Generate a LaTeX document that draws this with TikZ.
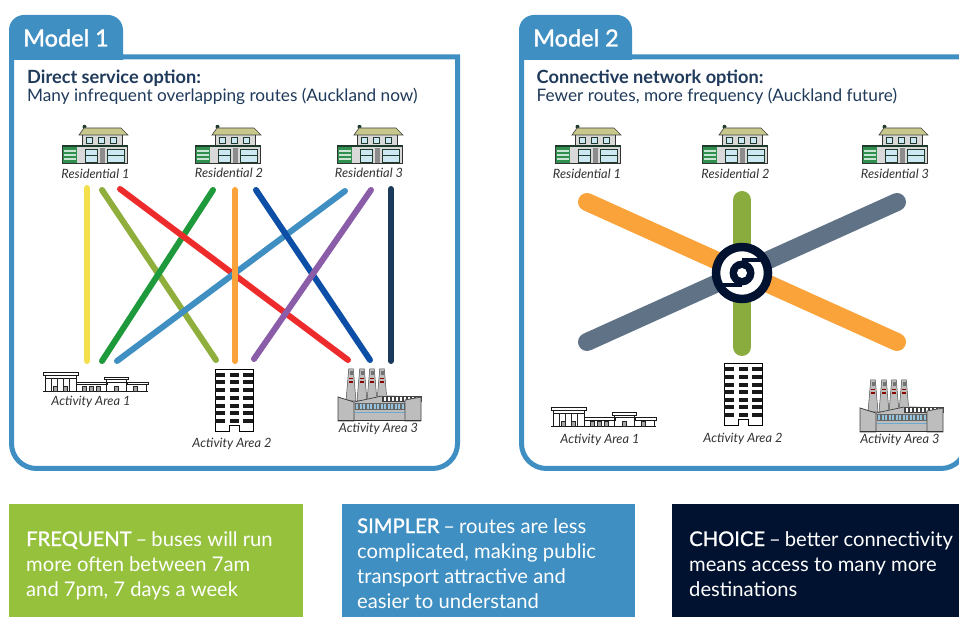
\documentclass[tikz,border=0pt]{standalone}
\usepackage{fontspec}
\setmainfont{Lato}
\newfontfamily\medfont[FakeBold=1.3]{Lato}
\definecolor{mblue}{HTML}{408FC2}
\definecolor{mgreen}{HTML}{95C13D}
\definecolor{mnavy}{HTML}{00122F}
\definecolor{headc}{HTML}{1F3A5A}
\definecolor{labc}{HTML}{333333}
\definecolor{rroof}{HTML}{C8C88C}
\definecolor{rwall}{HTML}{D9D9D9}
\definecolor{rglass}{HTML}{CDE8F2}
\definecolor{rdark}{HTML}{1E3A2A}
\definecolor{rgar}{HTML}{2F8F4F}
\definecolor{fgray}{HTML}{BDBDBD}
\definecolor{lyellow}{HTML}{F4E04D}
\definecolor{lolive}{HTML}{8FAE3C}
\definecolor{lred}{HTML}{EE2B2B}
\definecolor{lgreen}{HTML}{1E9A3C}
\definecolor{lorange}{HTML}{F9A33A}
\definecolor{ldblue}{HTML}{0D4EA6}
\definecolor{lpurple}{HTML}{8B5CA8}
\definecolor{lnavy}{HTML}{1C3A5C}
\definecolor{lslate}{HTML}{5F7286}
\definecolor{lgr2}{HTML}{8AAB3E}
\tikzset{
  thinroute/.style={line width=6pt,line cap=round},
  widthroute/.style={line width=18pt,line cap=round},
  panel/.style={draw=mblue,line width=5pt,fill=white},
  tabshape/.style={fill=mblue},
  tabtext/.style={anchor=base west,inner sep=0pt,text=white,font=\fontsize{23.5}{28}\selectfont\medfont},
  headtext/.style={anchor=base west,inner sep=0pt,align=left,text=headc,font=\fontsize{17.2}{18}\selectfont},
  iconlabel/.style={inner sep=0pt,text=labc,font=\fontsize{12.8}{13}\selectfont\itshape},
  boxtext/.style={anchor=base west,inner sep=0pt,align=left,text=white,font=\fontsize{20.2}{25}\selectfont},
  house/.pic={
    \fill[rdark] (22.5,1.8) circle[radius=2];
    \fill[rwall] (20,10) rectangle (60,21);
    \filldraw[fill=rroof,draw=black!75,line width=.6pt] (17,10) -- (22,3) -- (59,3) -- (66,10) -- cycle;
    \foreach \wx in {24,36,48}{\filldraw[fill=rglass,draw=rdark,line width=1pt] (\wx,13) rectangle +(6.5,6);}
    \filldraw[fill=rwall,draw=black!80,line width=.7pt] (0,21) rectangle (65,38);
    \fill[rgar] (0.5,22) rectangle (15,38);
    \foreach \sy in {25,29,33}{\fill[white!75!rgar] (1.5,\sy) rectangle (14,\sy+2);}
    \filldraw[fill=rglass,draw=rdark,line width=.6pt] (23,24.5) rectangle (35,37);
    \filldraw[fill=rglass,draw=rdark,line width=.6pt] (45,24.5) rectangle (62,37);
    \draw[rdark,line width=.8pt] (23,30.5) -- (35,30.5) (45,30.5) -- (62,30.5);
    \fill[black!45] (38,23) rectangle (43,38);
    \fill[rdark] (0,20) rectangle (66,22);
    \draw[black!80,line width=.8pt] (20,10) -- (20,20) (60,10) -- (60,20);
  },
  tower/.pic={
    \draw[black,line width=.9pt,fill=white] (0,0) -- (38,0) -- (38,62) -- (24,62) -- (24,56) -- (14.5,56) -- (14.5,62) -- (0,62) -- cycle;
    \foreach \ry in {5.7,13.3,21.3,29,36.7,44,51.7}{
      \fill[black!90] (0,\ry-2) rectangle (10,\ry+2);
      \fill[black!90] (14.5,\ry-2) rectangle (24,\ry+2);
      \fill[black!90] (28,\ry-2) rectangle (38,\ry+2);
    }
  },
  shops/.pic={
    \draw[black!90,line width=.8pt,fill=white] (0,0) rectangle (35,3);
    \draw[black!90,line width=.8pt] (2,3) -- (2,19) (33,3) -- (33,19) (2,6) -- (33,6);
    \draw[black!90,line width=.8pt,fill=white] (33,10) rectangle (64,12.5);
    \draw[black!90,line width=.8pt,fill=white] (61,5) rectangle (85,7.5);
    \draw[black!90,line width=.8pt] (63,7.5) -- (63,19) (83,7.5) -- (83,19) (63,10) -- (83,10);
    \draw[black!90,line width=.8pt,fill=white] (84,10) rectangle (105,12.5);
    \draw[black!90,line width=.8pt] (103,12.5) -- (103,19);
    \draw[black!90,line width=.9pt] (0,19) -- (105,19);
    \foreach \sx in {8,14,20,26}{\draw[black!85,line width=.6pt] (\sx,6) -- (\sx,19);}
    \foreach \sx in {10,20,39,46,53,71,90}{\filldraw[fill=black!35,draw=black!85,line width=.5pt] (\sx,14) rectangle +(4.5,5);}
  },
  factory/.pic={
    \foreach \cx in {13,24,34,44}{
      \filldraw[fill=fgray,draw=black!70,line width=.5pt] (\cx-2.3,0) -- (\cx+2.3,0) -- (\cx+5,32) -- (\cx-5,32) -- cycle;
      \fill[black!55] (\cx-1.5,2) rectangle (\cx+1.5,6);
      \fill[red!55!black] (\cx-2.2,9) rectangle (\cx+2.2,10.2);
      \fill[red!55!black] (\cx-2.4,12.5) rectangle (\cx+2.4,13.7);
    }
    \fill[fgray] (16,33) -- (46,26) -- (83,28) -- (83,52) -- (16,52) -- cycle;
    \filldraw[fill=black!75,draw=black!75,line width=.4pt] (44,27) -- (83,27) -- (83,32) -- (44,32) -- cycle;
    \foreach \tx in {46,50,...,80}{\fill[white] (\tx,28.5) rectangle +(1.6,3.5);}
    \draw[black!75,line width=.7pt] (16,33) -- (44,27);
    \fill[black!60] (17,34) rectangle (67,41);
    \foreach \wx in {18,21.5,...,64}{\fill[rglass!60!mblue] (\wx,35) rectangle +(2.2,5);}
    \draw[rglass!30!mblue,line width=.5pt] (17,43) -- (67,43);
    \filldraw[fill=fgray,draw=black!70,line width=.8pt] (67,52) -- (67,31) -- (83,28) -- (83,52) -- cycle;
    \filldraw[fill=fgray,draw=black!75,line width=.8pt] (0,52) -- (0,28) -- (16,33) -- (16,52) -- cycle;
    \draw[black!80,line width=1pt] (0,52) -- (83,52);
  },
}
\newcommand{\dashsep}{\hspace{.2em}–\hspace{.2em}}
\begin{document}
\begin{tikzpicture}[x=1pt,y=-1pt]
\useasboundingbox (0,0) rectangle (959,617);
\clip (0,0) rectangle (959,617);
\fill[white] (0,0) rectangle (959,617);

% Panel 1
\draw[panel] (11.5,57) [sharp corners] -- (457.5,57) [rounded corners=25pt] -- (457.5,468.5) -- (11.5,468.5) [sharp corners] -- cycle;
\fill[tabshape] (9,60) [rounded corners=15pt] -- (9,15) -- (123,15) [sharp corners] -- (123,60) -- cycle;
\node[tabtext] (m1) at (23,46.5) {Model 1};
\node[headtext] (h1) at (27,102) {{\fontsize{18.2}{18}\selectfont\bfseries Direct service option:}\\Many infrequent overlapping routes (Auckland now)};

% Panel 2
\draw[panel] (521.5,57) [sharp corners] -- (966,57) [rounded corners=25pt] -- (966,468.5) -- (521.5,468.5) [sharp corners] -- cycle;
\fill[tabshape] (519,60) [rounded corners=15pt] -- (519,15) -- (632,15) [sharp corners] -- (632,60) -- cycle;
\node[tabtext] (m2) at (533,46.5) {Model 2};
\node[headtext] (h2) at (536.5,102) {{\fontsize{18.2}{18}\selectfont\bfseries Connective network option:}\\Fewer routes, more frequency (Auckland future)};

% Icons model 1
\pic (ra) at (62,125) {house};
\pic (rb) at (195,125) {house};
\pic (rc) at (337,125) {house};
\node[iconlabel] (la) at (95.5,174) {Residential 1};
\node[iconlabel] (lb) at (229,173) {Residential 2};
\node[iconlabel] (lc) at (369,173) {Residential 3};
\pic (aa) at (43,372) {shops};
\pic (ab) at (215,369) {tower};
\pic (ac) at (338,369) {factory};
\node[iconlabel] (da) at (91,402) {Activity Area 1};
\node[iconlabel] (db) at (232,444) {Activity Area 2};
\node[iconlabel] (dc) at (378.5,429) {Activity Area 3};

% Routes model 1
\coordinate (r1a) at (87,188);  \coordinate (r1b) at (87,361);
\coordinate (r2a) at (102,190); \coordinate (r2b) at (216,360);
\coordinate (r3a) at (120,189); \coordinate (r3b) at (348,360);
\coordinate (r4a) at (213,190); \coordinate (r4b) at (102,361);
\coordinate (r5a) at (235,190); \coordinate (r5b) at (235,361);
\coordinate (r6a) at (256,190); \coordinate (r6b) at (370,360);
\coordinate (r7a) at (345,191); \coordinate (r7b) at (117,361);
\coordinate (r8a) at (371,190); \coordinate (r8b) at (254,359);
\coordinate (r9a) at (391,189); \coordinate (r9b) at (391,361);
\draw[thinroute,lyellow] (r1a) -- (r1b);
\draw[thinroute,lolive] (r2a) -- (r2b);
\draw[thinroute,lgreen] (r4a) -- (r4b);
\draw[thinroute,lred] (r3a) -- (r3b);
\draw[thinroute,mblue] (r7a) -- (r7b);
\draw[thinroute,lorange] (r5a) -- (r5b);
\draw[thinroute,ldblue] (r6a) -- (r6b);
\draw[thinroute,lpurple] (r8a) -- (r8b);
\draw[thinroute,lnavy] (r9a) -- (r9b);

% Icons model 2
\pic (rd) at (555,125) {house};
\pic (re) at (702,125) {house};
\pic (rf) at (862,125) {house};
\node[iconlabel] (le) at (587,174) {Residential 1};
\node[iconlabel] (lf) at (735.5,174) {Residential 2};
\node[iconlabel] (lg) at (895,174) {Residential 3};
\pic (ad) at (551,407.5) {shops};
\pic (ae) at (724,363.5) {tower};
\pic (af) at (860,380) {factory};
\node[iconlabel] (dd) at (600,440) {Activity Area 1};
\node[iconlabel] (de) at (743,439) {Activity Area 2};
\node[iconlabel] (df) at (900,440) {Activity Area 3};

% Routes model 2
\coordinate (s1a) at (587,202); \coordinate (s1b) at (897,342);
\coordinate (s2a) at (897,202); \coordinate (s2b) at (587,342);
\coordinate (s3a) at (742,200); \coordinate (s3b) at (742,347);
\draw[widthroute,lgr2] (s3a) -- (s3b);
\draw[widthroute,lorange] (s1a) -- (s1b);
\draw[widthroute,lslate] (s2a) -- (s2b);

% Hub
\node[circle,draw=mnavy,line width=8.5pt,fill=white,minimum size=52pt,inner sep=0pt] (hub) at (742,273) {};
\fill[mnavy] (hub.center) circle[radius=12.5];
\fill[white] (hub.center) circle[radius=5];
\draw[mnavy,line width=4pt] (764,260.5) -- (742,260.5);
\draw[mnavy,line width=4pt] (720,285.5) -- (742,285.5);

% Bottom boxes
\fill[mgreen] (9,504) rectangle (303,617);
\fill[mblue] (342,504) rectangle (635,617);
\fill[mnavy] (672,504) rectangle (959,617);
\node[boxtext] (b1) at (26,596) {{\medfont FREQUENT}\dashsep buses will run\\more often between 7am\\and 7pm, 7 days a week};
\node[boxtext] (b2) at (357,608) {{\medfont SIMPLER}\dashsep routes are less\\complicated, making public\\transport attractive and\\easier to understand};
\node[boxtext] (b3) at (689,596) {{\medfont CHOICE}\dashsep better connectivity\\means access to many more\\destinations};
\end{tikzpicture}
\end{document}
